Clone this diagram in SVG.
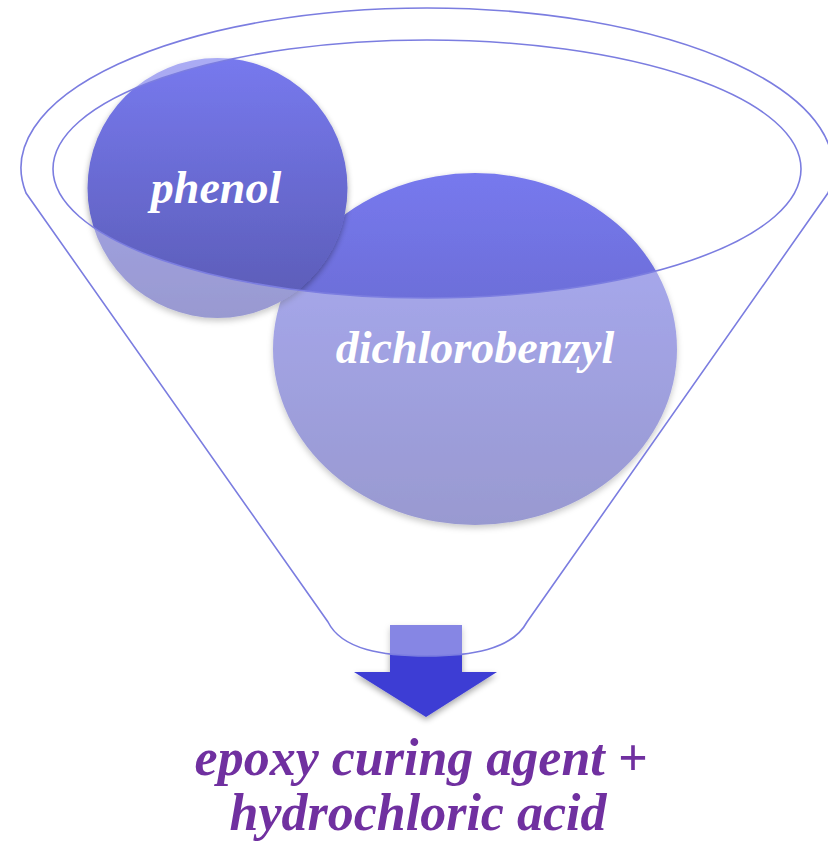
<svg xmlns="http://www.w3.org/2000/svg" width="828" height="844" viewBox="0 0 828 844">
  <defs>
    <linearGradient id="ballFill" x1="0" y1="0" x2="0" y2="1">
      <stop offset="0" stop-color="#7779ee"/>
      <stop offset="1" stop-color="#5a5bb4"/>
    </linearGradient>
    <filter id="softShadow" x="-20%" y="-20%" width="140%" height="140%">
      <feGaussianBlur in="SourceAlpha" stdDeviation="3"/>
      <feOffset dx="0" dy="3" result="blur"/>
      <feComponentTransfer><feFuncA type="linear" slope="0.35"/></feComponentTransfer>
      <feMerge><feMergeNode/><feMergeNode in="SourceGraphic"/></feMerge>
    </filter>
    <style>
      .ballLabel { font-family: "Liberation Serif", "Times New Roman", serif; font-weight: bold; font-style: italic; font-size: 46px; fill: #ffffff; text-anchor: middle; }
      .outLabel { font-family: "Liberation Serif", "Times New Roman", serif; font-weight: bold; font-style: italic; font-size: 52px; fill: #7030a0; text-anchor: middle; }
      .rim { fill: none; stroke: #7b7de0; stroke-width: 1.6; }
    </style>
  </defs>

  <!-- ingredients falling into the funnel -->
  <g id="node-dichlorobenzyl" filter="url(#softShadow)">
    <ellipse cx="475" cy="349" rx="202" ry="176" fill="url(#ballFill)"/>
  </g>
  <g id="node-phenol" filter="url(#softShadow)">
    <circle cx="217.5" cy="188" r="130" fill="url(#ballFill)"/>
  </g>

  <!-- output arrow -->
  <g id="connectors">
    <path d="M390,625 L462,625 L462,672 L497,672 L426,717 L354,672 L390,672 Z" fill="#3d3dd4" filter="url(#softShadow)"/>
  </g>

  <!-- funnel body: translucent wall with an open mouth -->
  <g id="funnel">
    <path fill="#ffffff" fill-opacity="0.38" fill-rule="evenodd"
      d="M26,193 A406,160 0 1 1 828,193 L527,622 C512,650 470,656 427,656 C384,656 342,650 328,622 Z
         M53,169 A374,129 0 1 0 801,169 A374,129 0 1 0 53,169 Z"/>
    <path class="rim" d="M26,193 A406,160 0 1 1 828,193 L527,622 C512,650 470,656 427,656 C384,656 342,650 328,622 Z"/>
    <ellipse class="rim" cx="427" cy="169" rx="374" ry="129"/>
  </g>

  <!-- labels -->
  <text class="ballLabel" x="216" y="203">phenol</text>
  <text class="ballLabel" x="475" y="363">dichlorobenzyl</text>
  <g id="node-result">
    <text class="outLabel" x="421" y="775">epoxy curing agent +</text>
    <text class="outLabel" x="418" y="830">hydrochloric acid</text>
  </g>
</svg>
